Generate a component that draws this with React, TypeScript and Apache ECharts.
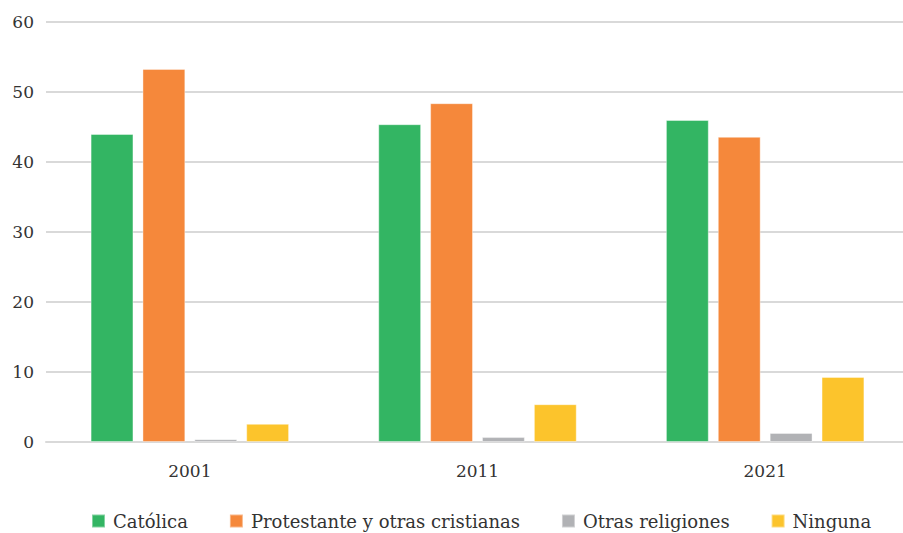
import React, { useEffect, useRef } from "react";
import * as echarts from "echarts";

const years = ["2001", "2011", "2021"];
const catolica = [44.0, 45.4, 46.0];
const protestante = [53.3, 48.4, 43.6];
const otras = [0.4, 0.7, 1.3];
const ninguna = [2.6, 5.4, 9.3];
const seriesNames = ["Católica", "Protestante y otras cristianas", "Otras religiones", "Ninguna"];
const colors = ["#33b563", "#f5883b", "#b1b2b5", "#fcc42c"];

export default function App() {
  const ref = useRef<HTMLDivElement>(null);
  useEffect(() => {
    const chart = echarts.init(ref.current!, null, { renderer: "svg" });
    const font = "DejaVu Serif";
    const data = [catolica, protestante, otras, ninguna];
    chart.setOption({
      animation: false,
      grid: { left: 46, right: 0, top: 22, bottom: 91 },
      legend: {
        bottom: -2,
        left: 86,
        itemWidth: 13,
        itemHeight: 13,
        itemGap: 41,
        icon: "rect",
        textStyle: { fontFamily: font, fontSize: 18, color: "#333", padding: [0, 0, 0, 3] },
        data: seriesNames,
      },
      xAxis: {
        type: "category",
        data: years,
        axisLine: { show: true, lineStyle: { color: "#d9d9d9", width: 2 } },
        axisTick: { show: false },
        axisLabel: { fontFamily: font, fontSize: 17, color: "#333", margin: 20 },
      },
      yAxis: {
        type: "value",
        min: 0,
        max: 60,
        interval: 10,
        axisLine: { show: false },
        axisTick: { show: false },
        splitLine: { lineStyle: { color: "#d9d9d9", width: 2 } },
        axisLabel: { fontFamily: font, fontSize: 17, color: "#333", margin: 12 },
      },
      series: seriesNames.map((n, i) => ({
        name: n,
        type: "bar",
        data: data[i],
        barGap: "21%",
        barCategoryGap: "31%",
        itemStyle: { color: colors[i], borderColor: "rgba(255,255,255,0.4)", borderWidth: 1 },
      })),
    });
    return () => chart.dispose();
  }, []);
  return (
    <div style={{ width: 903, height: 533, position: "absolute", left: 0, top: 0, overflow: "hidden" }}>
      <div ref={ref} style={{ width: 909, height: 533 }} />
    </div>
  );
}
